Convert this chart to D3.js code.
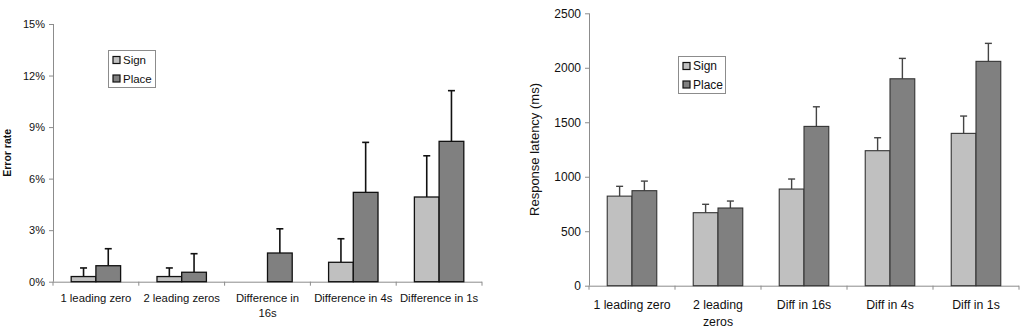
<!DOCTYPE html>
<html>
<head>
<meta charset="utf-8">
<script src="https://cdn.jsdelivr.net/npm/d3@7"></script>
<style>
  body { margin: 0; background: #fff; }
  svg { display: block; font-family: "Liberation Sans", Arial, sans-serif; }
</style>
</head>
<body>
<svg id="chart" width="1028" height="331"></svg>
<script>
// series names + colours
var seriesNames = ["Sign", "Place"];
var fills = { "Sign": "#c0c0c0", "Place": "#808080" };

// left panel: error rate (%)
var errCats = ["1 leading zero", "2 leading zeros", "Difference in\n16s", "Difference in 4s", "Difference in 1s"];
var errSign = [0.3, 0.3, 0, 1.13, 4.93];
var errSignSE = [0.5, 0.5, 0, 1.37, 2.4];
var errPlace = [0.93, 0.55, 1.67, 5.2, 8.17];
var errPlaceSE = [0.99, 1.08, 1.41, 2.91, 2.95];
var errTicks = [0, 3, 6, 9, 12, 15];

// right panel: response latency (ms)
var rtCats = ["1 leading zero", "2 leading\nzeros", "Diff in 16s", "Diff in 4s", "Diff in 1s"];
var rtSign = [822, 670, 887, 1239, 1398];
var rtSignSE = [90, 77, 92, 119, 159];
var rtPlace = [872, 713, 1462, 1899, 2059];
var rtPlaceSE = [88, 64, 180, 187, 165];
var rtTicks = [0, 500, 1000, 1500, 2000, 2500];

var svg = d3.select("#chart");

function makeRows(cats, a, aSE, b, bSE) {
    return cats.map(function(c, i) {
        return { cat: c, vals: [
            { s: "Sign", v: a[i], e: aSE[i] },
            { s: "Place", v: b[i], e: bSE[i] }
        ]};
    });
}

function drawPanel(opt) {
    var g = svg.append("g").attr("transform", "translate(" + opt.left + "," + opt.top + ")");
    var w = opt.width, h = opt.height;

    var y = d3.scaleLinear().domain([0, opt.max]).range([h, 0]);
    var x0 = d3.scaleBand().domain(opt.rows.map(function(d) { return d.cat; })).range([0, w]).padding(0);
    var bw = x0.bandwidth();
    var x1 = d3.scaleBand().domain(seriesNames).range([bw * 0.212, bw * 0.788]).padding(0);

    // y axis
    var yAxis = g.append("g")
        .call(d3.axisLeft(y).tickValues(opt.ticks).tickSize(4).tickPadding(4).tickFormat(opt.fmt));
    yAxis.select(".domain").attr("stroke", "#8c8c8c").attr("d", "M0.5," + h + "V0");
    yAxis.selectAll(".tick line").attr("stroke", "#8c8c8c");
    yAxis.selectAll("text").attr("font-size", opt.tickFont).attr("fill", "#111");

    // x axis line + boundary ticks
    g.append("line").attr("x1", 0).attr("x2", w).attr("y1", h + 0.5).attr("y2", h + 0.5)
        .attr("stroke", "#8c8c8c");
    g.selectAll(".bound").data(d3.range(opt.rows.length + 1)).enter().append("line")
        .attr("x1", function(i) { return i * x0.step(); })
        .attr("x2", function(i) { return i * x0.step(); })
        .attr("y1", h).attr("y2", h + 4)
        .attr("stroke", "#8c8c8c");

    // category labels
    var lbl = g.selectAll(".cat").data(opt.rows).enter().append("text")
        .attr("text-anchor", "middle")
        .attr("font-size", opt.catFont)
        .attr("fill", "#111")
        .attr("transform", function(d) { return "translate(" + (x0(d.cat) + bw / 2) + "," + (h + opt.catDy) + ")"; });
    lbl.each(function(d) {
        var t = d3.select(this);
        d.cat.split("\n").forEach(function(line, k) {
            t.append("tspan").attr("x", 0).attr("dy", k === 0 ? 0 : opt.lineH).text(line);
        });
    });

    // bars
    var groups = g.selectAll(".grp").data(opt.rows).enter().append("g")
        .attr("transform", function(d) { return "translate(" + x0(d.cat) + ",0)"; });

    var bars = groups.selectAll(".bar").data(function(d) { return d.vals.filter(function(v) { return v.v > 0; }); })
        .enter();

    bars.append("line")
        .attr("x1", function(d) { return x1(d.s) + x1.bandwidth() / 2; })
        .attr("x2", function(d) { return x1(d.s) + x1.bandwidth() / 2; })
        .attr("y1", function(d) { return y(d.v); })
        .attr("y2", function(d) { return y(d.v + d.e); })
        .attr("stroke", opt.errColor).attr("stroke-width", opt.errWidth);
    bars.append("line")
        .attr("x1", function(d) { return x1(d.s) + x1.bandwidth() / 2 - 3.5; })
        .attr("x2", function(d) { return x1(d.s) + x1.bandwidth() / 2 + 3.5; })
        .attr("y1", function(d) { return y(d.v + d.e); })
        .attr("y2", function(d) { return y(d.v + d.e); })
        .attr("stroke", opt.errColor).attr("stroke-width", opt.errWidth);

    bars.append("rect")
        .attr("x", function(d) { return x1(d.s); })
        .attr("y", function(d) { return y(d.v); })
        .attr("width", x1.bandwidth())
        .attr("height", function(d) { return h - y(d.v); })
        .attr("fill", function(d) { return fills[d.s]; })
        .attr("stroke", opt.barStroke).attr("stroke-width", opt.barStrokeW);

    // y title
    g.append("text")
        .attr("transform", "translate(" + opt.titleX + "," + (h / 2) + ") rotate(-90)")
        .attr("text-anchor", "middle")
        .attr("font-size", opt.titleFont)
        .attr("font-weight", opt.titleWeight)
        .attr("fill", "#111")
        .text(opt.title);

    // legend
    var lg = g.append("g").attr("transform", "translate(" + opt.legX + "," + opt.legY + ")");
    lg.append("rect").attr("x", 0.5).attr("y", 0.5).attr("width", opt.legW).attr("height", opt.legH)
        .attr("fill", "#fff").attr("stroke", "#8c8c8c");
    var items = lg.selectAll(".li").data(seriesNames).enter().append("g")
        .attr("transform", function(d, i) { return "translate(5," + (10 + i * 18.5) + ")"; });
    items.append("rect").attr("x", 0).attr("y", -3.5).attr("width", 7).attr("height", 7)
        .attr("fill", function(d) { return fills[d]; }).attr("stroke", "#111").attr("stroke-width", 1.2);
    items.append("text").attr("x", 10).attr("y", 0).attr("dy", "0.35em")
        .attr("font-size", opt.legFont).attr("fill", "#111").text(function(d) { return d; });
}

drawPanel({
    rows: makeRows(errCats, errSign, errSignSE, errPlace, errPlaceSE),
    left: 53, top: 24, width: 429, height: 257.7,
    max: 15, ticks: errTicks, fmt: function(d) { return d + "%"; },
    tickFont: 11, catFont: 11.3, catDy: 20.5, lineH: 15,
    errColor: "#111", errWidth: 1.6, barStroke: "#111", barStrokeW: 1.3,
    title: "Error rate", titleX: -42, titleFont: 10.5, titleWeight: "bold",
    legX: 55, legY: 26, legW: 47, legH: 37, legFont: 11.5
});

drawPanel({
    rows: makeRows(rtCats, rtSign, rtSignSE, rtPlace, rtPlaceSE),
    left: 589, top: 13.3, width: 430, height: 272.4,
    max: 2500, ticks: rtTicks, fmt: function(d) { return d; },
    tickFont: 12, catFont: 12.3, catDy: 23, lineH: 17.5,
    errColor: "#444", errWidth: 1.4, barStroke: "#333", barStrokeW: 1.1,
    title: "Response latency (ms)", titleX: -50, titleFont: 13, titleWeight: "normal",
    legX: 89, legY: 42.7, legW: 47, legH: 37, legFont: 12
});
</script>
</body>
</html>
